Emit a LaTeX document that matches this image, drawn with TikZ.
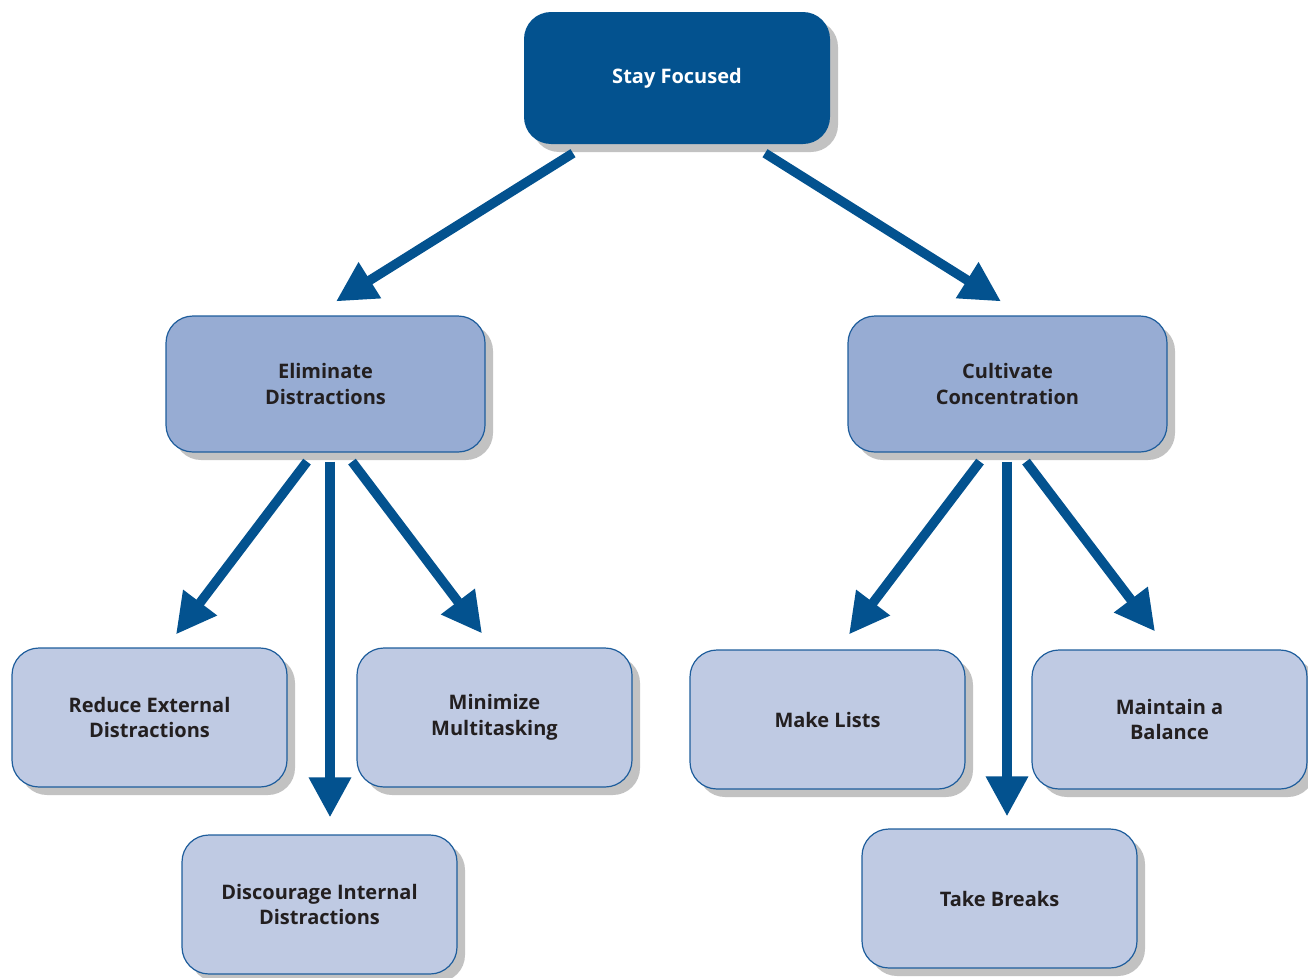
\documentclass[tikz,border=0pt]{standalone}
\usepackage{fontspec}
\setmainfont{Open Sans}
\usetikzlibrary{arrows.meta,shadows,calc}
\definecolor{navy}{HTML}{03528F}
\definecolor{midblue}{HTML}{97ACD3}
\definecolor{paleblue}{HTML}{BFCAE3}
\definecolor{edgeblue}{HTML}{1E5D9C}
\definecolor{shade}{HTML}{C2C2C2}
\definecolor{ink}{HTML}{231F20}
\tikzset{
  box/.style={rounded corners=27pt, align=center, inner sep=0pt,
    font=\fontsize{20}{25.5}\selectfont\bfseries,
    drop shadow={shadow xshift=8pt, shadow yshift=-8pt, fill=shade, opacity=1}},
  rootbox/.style={box, fill=navy, text=white, minimum width=306pt, minimum height=132pt},
  midbox/.style={box, fill=midblue, draw=edgeblue, line width=1.2pt, text=ink,
    minimum width=319pt, minimum height=136pt},
  leafbox/.style={box, fill=paleblue, draw=edgeblue, line width=1.2pt, text=ink,
    minimum width=275pt, minimum height=139pt},
  flow/.style={draw=navy, line width=9.5pt,
    -{Triangle[width=40pt,length=40pt]}}
}
\begin{document}
\begin{tikzpicture}[x=1pt,y=-1pt]
\useasboundingbox (0,0) rectangle (1308,977);
\begin{scope}
\clip (0,0) rectangle (1308,977);

% top of the hierarchy
\node[rootbox] (stay) at (677,78) {Stay Focused};

% second level
\node[midbox] (elim) at (325.5,384) {Eliminate\\Distractions};
\node[midbox] (cult) at (1007.5,384) {Cultivate\\Concentration};

% leaves under "Eliminate Distractions"
\node[leafbox] (red)  at (149.5,717.5) {Reduce External\\Distractions};
\node[leafbox] (mini) at (494.5,717.5) {Minimize\\Multitasking};
\node[leafbox] (disc) at (319.5,904.5) {Discourage Internal\\Distractions};

% leaves under "Cultivate Concentration"
\node[leafbox] (make)  at (827.5,719.5) {Make Lists};
\node[leafbox] (maint) at (1169.5,719.5) {Maintain a\\Balance};
\node[leafbox] (take)  at (999.5,898.5) {Take Breaks};

% connectors
\draw[flow] ($(stay.south)+(-104,9)$) -- ($(elim.north)+(10.5,-14)$);
\draw[flow] ($(stay.south)+(88,9)$)   -- ($(cult.north)+(-6.5,-14)$);

\draw[flow] ($(elim.south)+(-18.5,9)$) -- ($(red.north)+(26.5,-13)$);
\draw[flow] ($(elim.south)+(4.5,9)$)   -- ($(disc.north)+(10.5,-17)$);
\draw[flow] ($(elim.south)+(26.5,9)$)  -- ($(mini.north)+(-12.5,-14)$);

\draw[flow] ($(cult.south)+(-27.5,9)$) -- ($(make.north)+(21.5,-15)$);
\draw[flow] ($(cult.south)+(-0.5,9)$)  -- ($(take.north)+(7.5,-12)$);
\draw[flow] ($(cult.south)+(18.5,9)$)  -- ($(maint.north)+(-14.5,-18)$);
\end{scope}
\end{tikzpicture}
\end{document}
